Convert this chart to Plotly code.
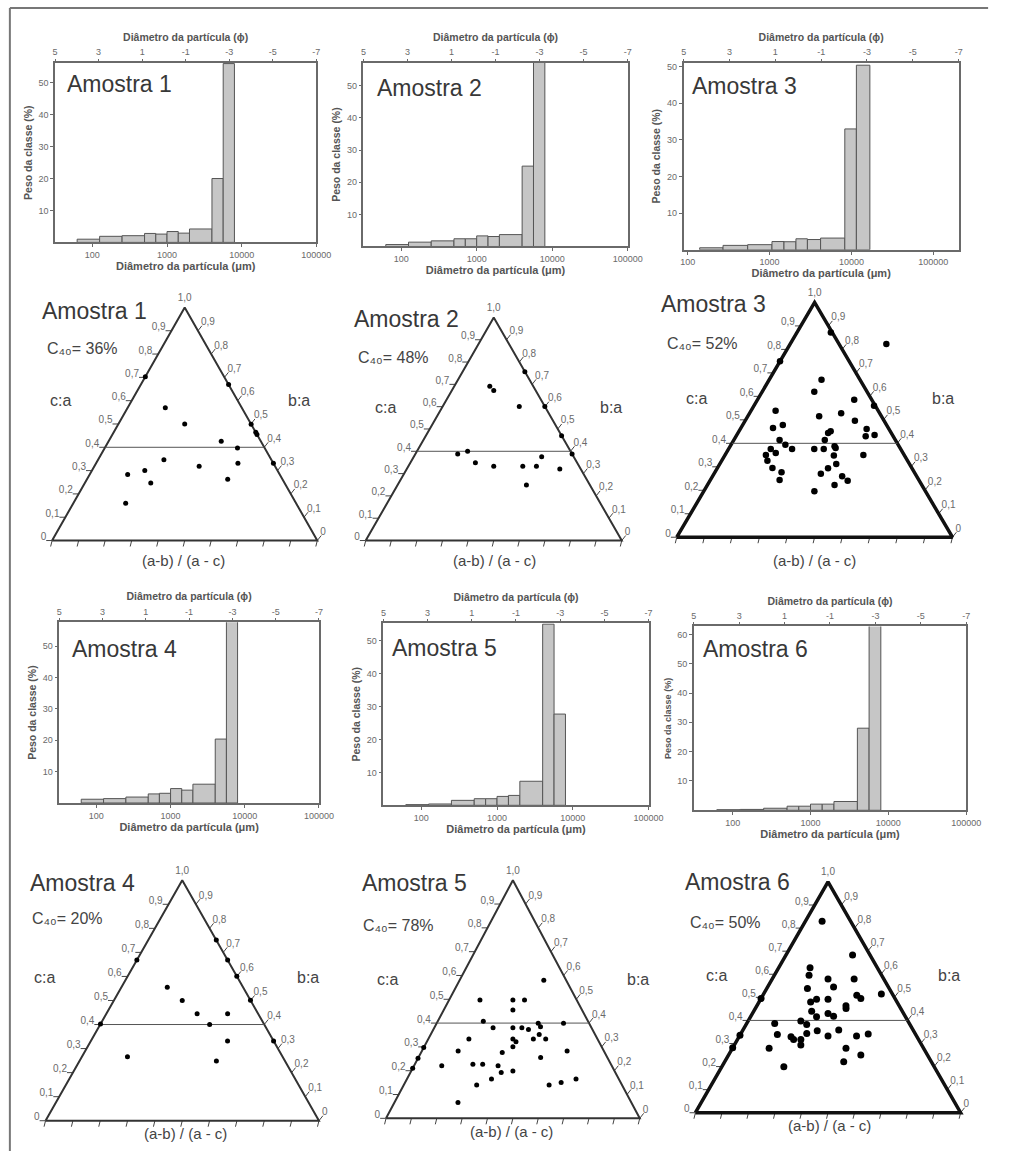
import numpy as np
import plotly.graph_objects as go

W_PX, H_PX = 1009, 1151
FONT = "Liberation Sans, Arial, sans-serif"

# ---------------- grain-size histograms ----------------
# class limits (µm) and class weight (%) for each sample
edges_1 = [62.5, 125, 250, 500, 707, 1000, 1414, 2000, 4000, 5657, 8000]
peso_1 = [1.0, 1.9, 2.1, 2.8, 2.6, 3.4, 2.9, 4.2, 20.0, 56.0]

edges_2 = [62.5, 125, 250, 500, 707, 1000, 1414, 2000, 4000, 5657, 8000]
peso_2 = [0.6, 1.35, 1.75, 2.4, 2.4, 3.3, 3.1, 3.7, 25.0, 58.0]

edges_3 = [140, 270, 540, 1070, 1500, 2100, 2900, 4200, 8300, 11500, 16800]
peso_3 = [0.55, 1.2, 1.4, 2.25, 2.2, 3.0, 2.8, 3.2, 33.0, 50.4]

edges_4 = [62.5, 125, 250, 500, 707, 1000, 1414, 2000, 4000, 5657, 8000]
peso_4 = [1.2, 1.4, 1.9, 2.9, 3.1, 4.6, 4.1, 6.0, 20.4, 58.5]

edges_5 = [62.5, 125, 250, 500, 707, 1000, 1414, 2000, 4000, 5657, 8000]
peso_5 = [0.2, 0.4, 1.5, 2.0, 2.0, 2.7, 3.0, 7.3, 55.0, 27.7]

edges_6 = [62.5, 125, 250, 500, 707, 1000, 1414, 2000, 4000, 5657, 8000]
peso_6 = [0.2, 0.3, 0.7, 1.4, 1.4, 2.1, 2.1, 3.0, 28.0, 63.5]

um_ticks = [100, 1000, 10000, 100000]
phi_ticks = [5, 3, 1, -1, -3, -5, -7]

# ---------------- Sneed & Folk form diagrams ----------------
# c:a and (a-b)/(a-c) of each clast
ca_1 = [0.703, 0.57, 0.50, 0.669, 0.499, 0.464, 0.455, 0.426, 0.397, 0.346,
        0.319, 0.331, 0.331, 0.283, 0.30, 0.247, 0.263, 0.16]
ab_1 = [0.0, 0.33, 0.50, 1.0, 1.0, 1.0, 1.0, 0.74, 0.83, 0.38,
        0.58, 0.80, 1.0, 0.20, 0.285, 0.33, 0.72, 0.235]

ca_2 = [0.691, 0.672, 0.757, 0.601, 0.601, 0.47, 0.388, 0.388, 0.40, 0.349,
        0.333, 0.333, 0.333, 0.376, 0.321, 0.249]
ab_2 = [0.45, 0.50, 1.0, 0.75, 1.0, 1.0, 1.0, 0.27, 0.33, 0.39,
        0.50, 0.67, 0.75, 0.80, 0.88, 0.67]

ca_3 = [0.872, 0.823, 0.749, 0.671, 0.62, 0.586, 0.56, 0.539, 0.515, 0.528,
        0.496, 0.465, 0.478, 0.461, 0.435, 0.43, 0.451, 0.444, 0.414, 0.414,
        0.394, 0.376, 0.376, 0.359, 0.35, 0.326, 0.295, 0.277, 0.244, 0.376,
        0.376, 0.38, 0.348, 0.312, 0.294, 0.27, 0.26, 0.241, 0.223, 0.196,
        0.35, 0.387]
ab_3 = [0.96, 1.97, 0.0, 0.576, 0.497, 0.847, 0.99, 0.193, 0.534, 0.704,
        0.79, 0.218, 0.279, 0.85, 0.885, 0.825, 0.606, 0.588, 0.563, 0.283,
        0.325, 0.369, 0.245, 0.28, 0.228, 0.246, 0.283, 0.334, 0.332, 0.498,
        0.553, 0.623, 0.607, 0.614, 0.569, 0.531, 0.635, 0.658, 0.593, 0.499,
        0.772, 0.618]

ca_4 = [0.668, 0.751, 0.668, 0.601, 0.501, 0.332, 0.402, 0.555, 0.50, 0.445,
        0.445, 0.40, 0.332, 0.266, 0.248]
ab_4 = [0.0, 1.0, 1.0, 1.0, 1.0, 1.0, 0.0, 0.377, 0.50, 0.598,
        0.799, 0.667, 0.748, 0.227, 0.666]

ca_5 = [0.58, 0.497, 0.497, 0.497, 0.455, 0.408, 0.38, 0.38, 0.38, 0.373,
        0.399, 0.385, 0.399, 0.333, 0.333, 0.322, 0.333, 0.352, 0.333, 0.301,
        0.276, 0.283, 0.283, 0.256, 0.221, 0.227, 0.227, 0.221, 0.193, 0.199,
        0.165, 0.14, 0.14, 0.151, 0.165, 0.067, 0.21, 0.252, 0.297]
ab_5 = [0.79, 0.242, 0.50, 0.591, 0.50, 0.303, 0.374, 0.50, 0.557, 0.598,
        0.666, 0.677, 0.832, 0.24, 0.50, 0.518, 0.621, 0.66, 0.694, 0.50,
        0.442, 0.199, 0.798, 0.647, 0.14, 0.296, 0.346, 0.425, 0.443, 0.50,
        0.399, 0.334, 0.666, 0.724, 0.798, 0.268, 0.0, 0.0, 0.0]

ca_6 = [0.83, 0.683, 0.628, 0.596, 0.579, 0.579, 0.545, 0.538, 0.514, 0.509,
        0.495, 0.492, 0.48, 0.492, 0.463, 0.452, 0.44, 0.43, 0.418, 0.416,
        0.397, 0.387, 0.382, 0.355, 0.358, 0.343, 0.341, 0.339, 0.329, 0.317,
        0.317, 0.332, 0.332, 0.293, 0.279, 0.279, 0.25, 0.221, 0.199, 0.495,
        0.336, 0.281]
ab_6 = [0.369, 0.792, 0.318, 0.323, 0.50, 0.734, 0.546, 0.332, 0.914, 0.721,
        0.745, 0.415, 0.374, 0.50, 0.626, 0.624, 0.39, 0.50, 0.536, 0.426,
        0.33, 0.172, 0.37, 0.437, 0.563, 0.378, 0.73, 0.211, 0.292, 0.31,
        0.35, 0.50, 0.661, 0.355, 0.192, 0.594, 0.665, 0.576, 0.292, 0.0,
        0.0, 0.0]

c40_labels = ["36%", "48%", "52%", "20%", "78%", "50%"]
sample_names = ["Amostra 1", "Amostra 2", "Amostra 3",
                "Amostra 4", "Amostra 5", "Amostra 6"]
c40_limit = 0.4
side_ticks = [0.0, 0.1, 0.2, 0.3, 0.4, 0.5, 0.6, 0.7, 0.8, 0.9]
base_ticks = [0.0, 0.1, 0.2, 0.3, 0.4, 0.5, 0.6, 0.7, 0.8, 0.9, 1.0]


def fx(px):
    return px / W_PX


def fy(py):
    return 1 - py / H_PX


def dec(v):
    return "0" if v == 0 else f"{v:.1f}".replace(".", ",")


fig = go.Figure()
layout = dict()
annotations = []

# ---------------- histogram panels ----------------
hist_panels = [
    # edges, weights, box (left, right, top, bottom) px, log10 range, y range, y ticks
    dict(e=edges_1, p=peso_1, box=(53, 319, 62, 241.6), xr=(1.5, 5.0), yr=56.2,
         yt=[10, 20, 30, 40, 50], lab=(63, 83), ys=10.5),
    dict(e=edges_2, p=peso_2, box=(367, 636, 61.7, 245.7), xr=(1.5, 5.0), yr=57.2,
         yt=[10, 20, 30, 40, 50], lab=(379, 87), ys=10.5),
    dict(e=edges_3, p=peso_3, box=(693, 973, 61.7, 249), xr=(1.95, 5.31), yr=51.1,
         yt=[10, 20, 30, 40, 50], lab=(699, 85), ys=10.5),
    dict(e=edges_4, p=peso_4, box=(57.3, 321.7, 621.7, 802.7), xr=(1.5, 5.0), yr=57.7,
         yt=[10, 20, 30, 40, 50], lab=(68, 649), ys=10.5),
    dict(e=edges_5, p=peso_5, box=(387.3, 657.3, 622.7, 805), xr=(1.5, 5.0), yr=55.3,
         yt=[10, 20, 30, 40, 50], lab=(394, 648), ys=10.5),
    dict(e=edges_6, p=peso_6, box=(703.3, 980.7, 626, 810), xr=(1.5, 5.0), yr=62.7,
         yt=[10, 20, 30, 40, 50, 60], lab=(711, 649), ys=9),
]

AX_COL = "#6a6a6a"
TICK_FONT = dict(family=FONT, size=9, color="#6a6a6a")
TITLE_FONT = dict(family=FONT, size=11, color="#555555")

for i, hp in enumerate(hist_panels):
    kb = 3 * i + 1      # bottom x / y axis index
    kt = 3 * i + 2      # top (phi) x axis index
    xb = "x" if kb == 1 else f"x{kb}"
    yb = "y" if kb == 1 else f"y{kb}"
    xt = f"x{kt}"
    l, r, t, b = hp["box"]
    e = np.log10(np.array(hp["e"], dtype=float))
    centers = (e[:-1] + e[1:]) / 2
    widths = np.diff(e)
    fig.add_trace(go.Bar(
        x=centers, y=hp["p"], width=widths, xaxis=xb, yaxis=yb,
        marker=dict(color="#c6c6c6", line=dict(color="#555555", width=1)),
        hoverinfo="skip", showlegend=False))
    fig.add_trace(go.Scatter(
        x=[phi_ticks[0], phi_ticks[-1]], y=[0, 0], xaxis=xt, yaxis=yb,
        mode="markers", marker=dict(opacity=0), hoverinfo="skip", showlegend=False))

    xname = "xaxis" if kb == 1 else f"xaxis{kb}"
    yname = "yaxis" if kb == 1 else f"yaxis{kb}"
    layout[xname] = dict(
        domain=[fx(l), fx(r)], anchor=yb, range=list(hp["xr"]),
        tickvals=list(np.log10(um_ticks)), ticktext=[str(v) for v in um_ticks],
        ticks="outside", ticklen=3, tickcolor=AX_COL, tickfont=TICK_FONT,
        showline=True, mirror=True, linecolor=AX_COL, linewidth=1.5,
        showgrid=False, zeroline=False, fixedrange=True,
        title=dict(text="<b>Diâmetro da partícula (μm)</b>", font=TITLE_FONT, standoff=2))
    layout[f"xaxis{kt}"] = dict(
        overlaying=xb, anchor=yb, side="top", range=[phi_ticks[0], phi_ticks[-1]],
        tickvals=phi_ticks, ticktext=[str(v) for v in phi_ticks],
        ticks="outside", ticklen=3, tickcolor=AX_COL, tickfont=TICK_FONT,
        showline=False, showgrid=False, zeroline=False, fixedrange=True,
        title=dict(text="<b>Diâmetro da partícula (ϕ)</b>",
                   font=dict(family=FONT, size=10.5, color="#555555"), standoff=3))
    layout[yname] = dict(
        domain=[fy(b), fy(t)], anchor=xb, range=[0, hp["yr"]],
        tickvals=hp["yt"], ticks="outside", ticklen=3, tickcolor=AX_COL,
        tickfont=TICK_FONT, showline=True, mirror=True, linecolor=AX_COL,
        linewidth=1.5, showgrid=False, zeroline=False, fixedrange=True,
        title=dict(text="<b>Peso da classe (%)</b>",
                   font=dict(family=FONT, size=hp["ys"], color="#555555"), standoff=4))
    annotations.append(dict(
        x=fx(hp["lab"][0]), y=fy(hp["lab"][1]), xref="paper", yref="paper",
        xanchor="left", yanchor="middle", showarrow=False, text=sample_names[i],
        font=dict(family=FONT, size=23, color="#383838")))

# ---------------- form triangles ----------------
tri_panels = [
    # points, triangle geometry px (left, right, base y, apex y), style, label spots
    dict(ca=ca_1, ab=ab_1, g=(50, 320, 540, 306.7), lw=2, lc="#333333", ms=5,
         name=(38, 310), c40=(43, 348), ca_lab=(59, 400), ba_lab=(301, 400), base_lab=(184, 560)),
    dict(ca=ca_2, ab=ab_2, g=(369.3, 630, 540, 316.7), lw=2, lc="#333333", ms=5,
         name=(355, 318), c40=(359, 357), ca_lab=(389, 407), ba_lab=(619, 407), base_lab=(500, 560)),
    dict(ca=ca_3, ab=ab_3, g=(686, 966.7, 536.7, 301.7), lw=3.5, lc="#111111", ms=6.5,
         name=(668, 303), c40=(674, 343), ca_lab=(706, 398), ba_lab=(957, 398), base_lab=(826, 560)),
    dict(ca=ca_4, ab=ab_4, g=(43.3, 321.7, 1120.7, 880), lw=2, lc="#333333", ms=5,
         name=(25, 883), c40=(27, 918), ca_lab=(42, 977), ba_lab=(311, 977), base_lab=(186, 1133)),
    dict(ca=ca_5, ab=ab_5, g=(390, 648.3, 1118.3, 880), lw=2, lc="#333333", ms=5,
         name=(363, 883), c40=(365, 925), ca_lab=(391, 979), ba_lab=(647, 979), base_lab=(518, 1131)),
    dict(ca=ca_6, ab=ab_6, g=(705, 975, 1112.7, 881.7), lw=3.5, lc="#111111", ms=7,
         name=(692, 882), c40=(697, 922), ca_lab=(726, 975), ba_lab=(963, 975), base_lab=(842, 1125)),
]

LAB_FONT = dict(family=FONT, size=10, color="#6a6a6a")
BLANK_AXIS = dict(showline=False, showgrid=False, zeroline=False,
                  showticklabels=False, ticks="", fixedrange=True)

for i, tp in enumerate(tri_panels):
    k = 20 + i
    xa, ya = f"x{k}", f"y{k}"
    blx, brx, by, ay = tp["g"]
    Wt, Ht = brx - blx, by - ay
    dx0, dx1 = max(0.0, blx - 45), min(W_PX, brx + 45)
    dy0, dy1 = ay - 24, by + 22
    layout[f"xaxis{k}"] = dict(domain=[fx(dx0), fx(dx1)], anchor=ya,
                               range=[(dx0 - blx) / Wt, (dx1 - blx) / Wt], **BLANK_AXIS)
    layout[f"yaxis{k}"] = dict(domain=[fy(dy1), fy(dy0)], anchor=xa,
                               range=[(by - dy1) / Ht, (by - dy0) / Ht], **BLANK_AXIS)

    # tick marks on the three sides
    tx, ty = [], []
    for v in side_ticks:
        tx += [v / 2, v / 2 - 6 / Wt, None]
        ty += [v, v, None]
        tx += [1 - v / 2, 1 - v / 2 + 4 / Wt, None]
        ty += [v, v + 5 / Ht, None]
    for u in base_ticks:
        tx += [u, u - 1.5 / Wt, None]
        ty += [0, -6 / Ht, None]
    fig.add_trace(go.Scatter(x=tx, y=ty, xaxis=xa, yaxis=ya, mode="lines",
                             line=dict(color="#444444", width=1),
                             hoverinfo="skip", showlegend=False))

    # outline and the c:a = 0.4 line
    fig.add_trace(go.Scatter(x=[0, 1, 0.5, 0], y=[0, 0, 1, 0], xaxis=xa, yaxis=ya,
                             mode="lines", line=dict(color=tp["lc"], width=tp["lw"]),
                             hoverinfo="skip", showlegend=False))
    fig.add_trace(go.Scatter(x=[c40_limit / 2, 1 - c40_limit / 2], y=[c40_limit, c40_limit],
                             xaxis=xa, yaxis=ya, mode="lines",
                             line=dict(color="#555555", width=1),
                             hoverinfo="skip", showlegend=False))

    # side labels
    fig.add_trace(go.Scatter(
        x=[v / 2 - 6 / Wt for v in side_ticks], y=[v + 3 / Ht for v in side_ticks],
        text=[dec(v) for v in side_ticks], mode="text", textposition="middle left",
        textfont=LAB_FONT, xaxis=xa, yaxis=ya, cliponaxis=False,
        hoverinfo="skip", showlegend=False))
    fig.add_trace(go.Scatter(
        x=[1 - v / 2 + 3 / Wt for v in side_ticks], y=[v + 8 / Ht for v in side_ticks],
        text=[dec(v) for v in side_ticks], mode="text", textposition="middle right",
        textfont=LAB_FONT, xaxis=xa, yaxis=ya, cliponaxis=False,
        hoverinfo="skip", showlegend=False))
    fig.add_trace(go.Scatter(
        x=[0.5], y=[1 + 9 / Ht], text=["1,0"], mode="text", textposition="middle center",
        textfont=LAB_FONT, xaxis=xa, yaxis=ya, cliponaxis=False,
        hoverinfo="skip", showlegend=False))

    # clasts
    ca = np.array(tp["ca"])
    ab = np.array(tp["ab"])
    px = 0.5 + (ab - 0.5) * (1 - ca)
    fig.add_trace(go.Scatter(x=px, y=ca, xaxis=xa, yaxis=ya, mode="markers",
                             marker=dict(color="black", size=tp["ms"]),
                             cliponaxis=False, hoverinfo="skip", showlegend=False))

    # texts around the diagram
    annotations.append(dict(x=fx(tp["name"][0]), y=fy(tp["name"][1]), xref="paper",
                            yref="paper", xanchor="left", yanchor="middle",
                            showarrow=False, text=sample_names[i],
                            font=dict(family=FONT, size=23, color="#383838")))
    annotations.append(dict(x=fx(tp["c40"][0]), y=fy(tp["c40"][1]), xref="paper",
                            yref="paper", xanchor="left", yanchor="middle",
                            showarrow=False, text=f"C₄₀= {c40_labels[i]}",
                            font=dict(family=FONT, size=16, color="#444444")))
    annotations.append(dict(x=fx(tp["ca_lab"][0]), y=fy(tp["ca_lab"][1]), xref="paper",
                            yref="paper", xanchor="center", yanchor="middle",
                            showarrow=False, text="c:a",
                            font=dict(family=FONT, size=16, color="#444444")))
    annotations.append(dict(x=fx(tp["ba_lab"][0]), y=fy(tp["ba_lab"][1]), xref="paper",
                            yref="paper", xanchor="center", yanchor="middle",
                            showarrow=False, text="b:a",
                            font=dict(family=FONT, size=16, color="#444444")))
    annotations.append(dict(x=fx(tp["base_lab"][0]), y=fy(tp["base_lab"][1]), xref="paper",
                            yref="paper", xanchor="center", yanchor="middle",
                            showarrow=False, text="(a-b) / (a - c)",
                            font=dict(family=FONT, size=15, color="#444444")))

# page frame
shapes = [
    dict(type="line", xref="paper", yref="paper", x0=fx(7), x1=fx(1003),
         y0=fy(7), y1=fy(7), line=dict(color="#777777", width=2)),
    dict(type="line", xref="paper", yref="paper", x0=fx(7), x1=fx(7),
         y0=fy(7), y1=0, line=dict(color="#777777", width=2)),
]

fig.update_layout(
    width=W_PX, height=H_PX, autosize=False,
    margin=dict(l=0, r=0, t=0, b=0, pad=0),
    paper_bgcolor="white", plot_bgcolor="rgba(0,0,0,0)",
    showlegend=False, font=dict(family=FONT),
    annotations=annotations, shapes=shapes, **layout)

fig.write_html("out.html")
